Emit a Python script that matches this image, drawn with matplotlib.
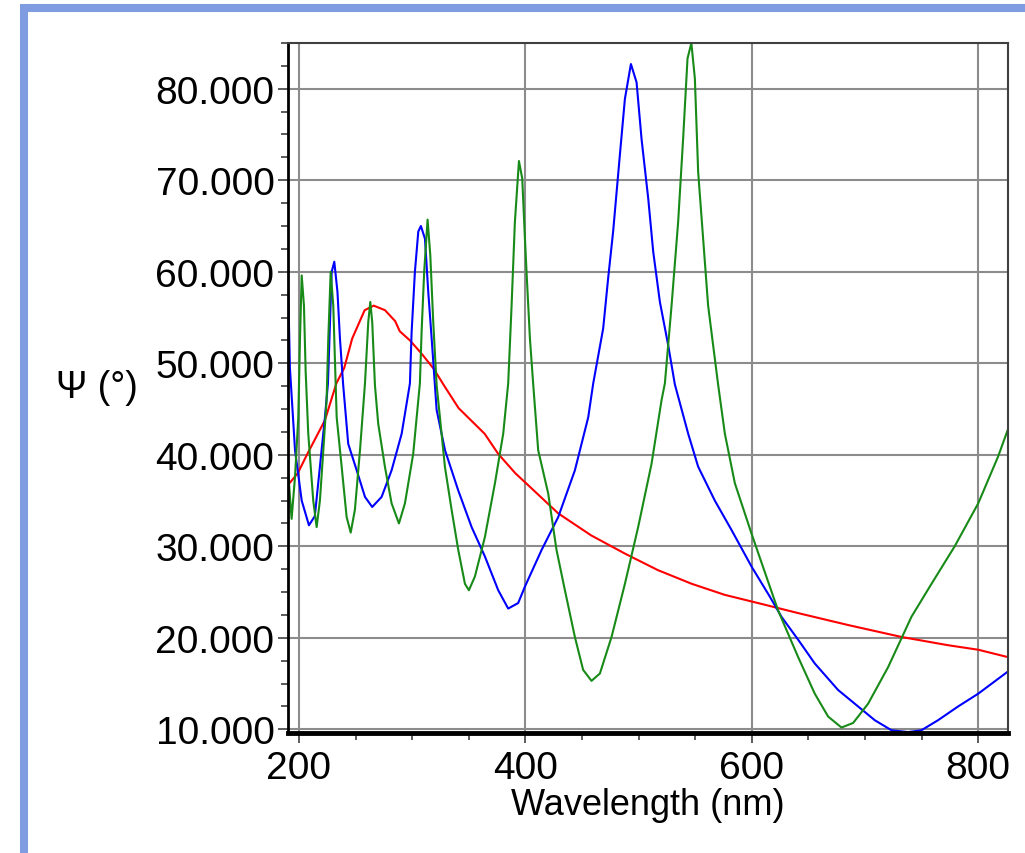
import numpy as np
import matplotlib.pyplot as plt
from matplotlib.patches import Rectangle
from matplotlib.ticker import MultipleLocator, FormatStrFormatter

plt.rcParams['font.family'] = ['Liberation Sans', 'DejaVu Sans']

# red curve: single broad maximum
red_nm = [191, 199, 207, 223, 233, 240, 247, 258, 266, 276, 285, 289, 298, 308,
          319, 328, 341, 364, 376, 391, 404, 429, 458, 488, 517, 547, 576, 612,
          641, 685, 732, 773, 800, 826]
red_psi = [36.8, 38.0, 40.0, 43.8, 47.8, 49.5, 52.7, 55.8, 56.3, 55.8, 54.6, 53.5,
           52.5, 51.1, 49.4, 47.6, 45.1, 42.3, 40.1, 38.0, 36.5, 33.6, 31.2, 29.2,
           27.4, 25.9, 24.7, 23.6, 22.7, 21.4, 20.1, 19.2, 18.7, 17.9]

# blue curve
blue_nm = [190.6, 192, 196.5, 202.4, 208.8, 214, 218.5, 223, 225.6, 228.9, 231.2,
           234, 236.2, 239, 243.5, 251, 258.3, 264.7, 273, 281.8, 290.7, 298,
           299.5, 302.4, 305.4, 307.7, 311.3, 314.2, 317.2, 321.6, 329, 340.7,
           352.5, 364.2, 376, 384.8, 393.6, 399.6, 404, 414.3, 429, 443.7, 455.5,
           459.9, 468.7, 473.1, 477.5, 483.4, 487.9, 493.2, 498.2, 502.6, 508.5,
           512.9, 518.8, 526.1, 532, 543.8, 552.6, 567.3, 582, 599.7, 615.9,
           626.2, 640.9, 655.6, 676.2, 693.9, 708.6, 723.4, 738, 749.8, 764.5,
           782.2, 800, 826]
blue_psi = [57.5, 49.5, 40.5, 35.0, 32.3, 33.3, 38.7, 44.2, 47.8, 60.0, 61.1,
            57.8, 52.7, 47.7, 41.2, 38.3, 35.4, 34.3, 35.4, 38.3, 42.3, 47.8,
            53.4, 60.0, 64.4, 65.0, 63.6, 57.8, 52.7, 44.9, 40.5, 36.1,
            32.1, 28.9, 25.2, 23.2, 23.8, 25.6, 26.8, 29.6, 33.2, 38.3, 44.1,
            47.8, 53.8, 59.3, 64.4, 72.7, 78.9, 82.7, 80.7, 74.5, 68.0,
            62.2, 56.7, 52.0, 47.7, 42.3, 38.7, 35.0, 31.8, 27.8, 24.5,
            22.3, 19.8, 17.2, 14.3, 12.5, 11.0, 9.9, 9.7, 9.9, 11.0,
            12.5, 13.9, 16.3]

# green curve
green_nm = [190.6, 193.5, 196.5, 199.4, 200.9, 202.4, 204.4, 205.9, 208.2, 212.6,
            215.6, 218.5, 221.5, 224.4, 225.9, 228, 230.3, 233.3, 237.7, 242.1,
            245.7, 249.4, 253.9, 258.3, 261.2, 263, 264.7, 267.1, 270, 275.9,
            281.8, 288.3, 293.6, 300.9, 306.8, 308.3, 310.6, 313.6, 316, 318.6,
            321.6, 324.5, 328.9, 334.8, 340.7, 346.6, 350.1, 355.4, 364.2, 373.1,
            380.4, 384.8, 387.8, 390.7, 394.3, 397.2, 399.6, 401, 404, 406.9,
            411.3, 420.1, 427.5, 434.9, 443.7, 451, 458.4, 465.8, 476.1, 487.9,
            499.6, 511.4, 520.3, 523.2, 529.1, 534.9, 539.3, 543.2, 546.6, 549.7,
            552.6, 557, 561.4, 570.2, 576.2, 585, 599.7, 615.9, 623.2, 640.9,
            655.6, 667.4, 679.2, 689.5, 702.7, 720.4, 741, 758.7, 779.2, 800,
            817.5, 826]
green_psi = [37.8, 33.0, 37.6, 44.1, 52.7, 59.6, 56.3, 49.1, 42.3, 35.0,
             32.1, 35.0, 40.5, 46.0, 52.7, 60.0, 56.3, 44.1, 38.7, 33.2,
             31.5, 34.0, 40.5, 47.8, 54.5, 56.7, 54.5, 47.6, 43.4, 38.7,
             34.7, 32.5, 34.7, 40.1, 47.8, 53.4, 60.0, 65.7, 61.8, 54.5,
             47.6, 44.1, 38.7, 34.0, 29.6, 25.9, 25.2, 26.7, 31.0, 36.9,
             42.3, 47.8, 56.3, 65.4, 72.1, 70.2, 63.6, 60.0, 52.7, 47.7,
             40.5, 35.8, 29.6, 25.2, 20.1, 16.5, 15.3, 16.1, 20.1, 25.9,
             32.1, 39.0, 46.0, 47.8, 56.3, 65.4, 74.5, 83.3, 85.0, 81.1,
             70.9, 63.6, 56.3, 47.7, 42.3, 36.9, 31.4, 25.6, 23.0, 17.9,
             13.9, 11.4, 10.2, 10.7, 12.8, 16.8, 22.3, 25.9, 30.0, 34.7,
             39.8, 42.7]

fig = plt.figure(figsize=(10.25, 8.54), dpi=100)

# light blue frame around the whole graph
frame = Rectangle((24 / 1025, -0.2), 2.0, 1.2 - 9 / 854, transform=fig.transFigure,
                  fill=False, edgecolor='#7f9ce0', linewidth=5.8, clip_on=False)
fig.add_artist(frame)

ax = fig.add_axes([0.2813, 0.1405, 0.7018, 0.808])

ax.plot(red_nm, red_psi, color='#ff0000', lw=1.5)
ax.plot(blue_nm, blue_psi, color='#0000ff', lw=1.5)
ax.plot(green_nm, green_psi, color='#178a17', lw=1.5)

ax.set_xlim(190.6, 826)
ax.set_ylim(9.6, 85.0)

ax.xaxis.set_major_locator(MultipleLocator(200))
ax.xaxis.set_minor_locator(MultipleLocator(50))
ax.yaxis.set_major_locator(MultipleLocator(10))
ax.yaxis.set_minor_locator(MultipleLocator(2.5))
ax.yaxis.set_major_formatter(FormatStrFormatter('%.3f'))

ax.grid(True, which='major', color='#8c8c8c', lw=1.5)
ax.set_axisbelow(True)

ax.tick_params(axis='both', which='major', length=7, width=1.2, color='#404040',
               labelsize=28, pad=3)
ax.tick_params(axis='both', which='minor', length=5, width=1.2, color='#404040')
ax.tick_params(axis='x', which='major', pad=5)

ax.spines['left'].set_linewidth(2)
ax.spines['left'].set_color('black')
ax.spines['bottom'].set_linewidth(3.5)
ax.spines['bottom'].set_color('black')
ax.spines['top'].set_linewidth(1.5)
ax.spines['top'].set_color('#404040')
ax.spines['right'].set_linewidth(1.5)
ax.spines['right'].set_color('#404040')

ax.set_xlabel('Wavelength (nm)', fontsize=26, labelpad=1)
fig.text(97 / 1025, 1 - 388 / 854, 'Ψ (°)', fontsize=27, ha='center', va='center')

fig.savefig('out.png', dpi=100)
